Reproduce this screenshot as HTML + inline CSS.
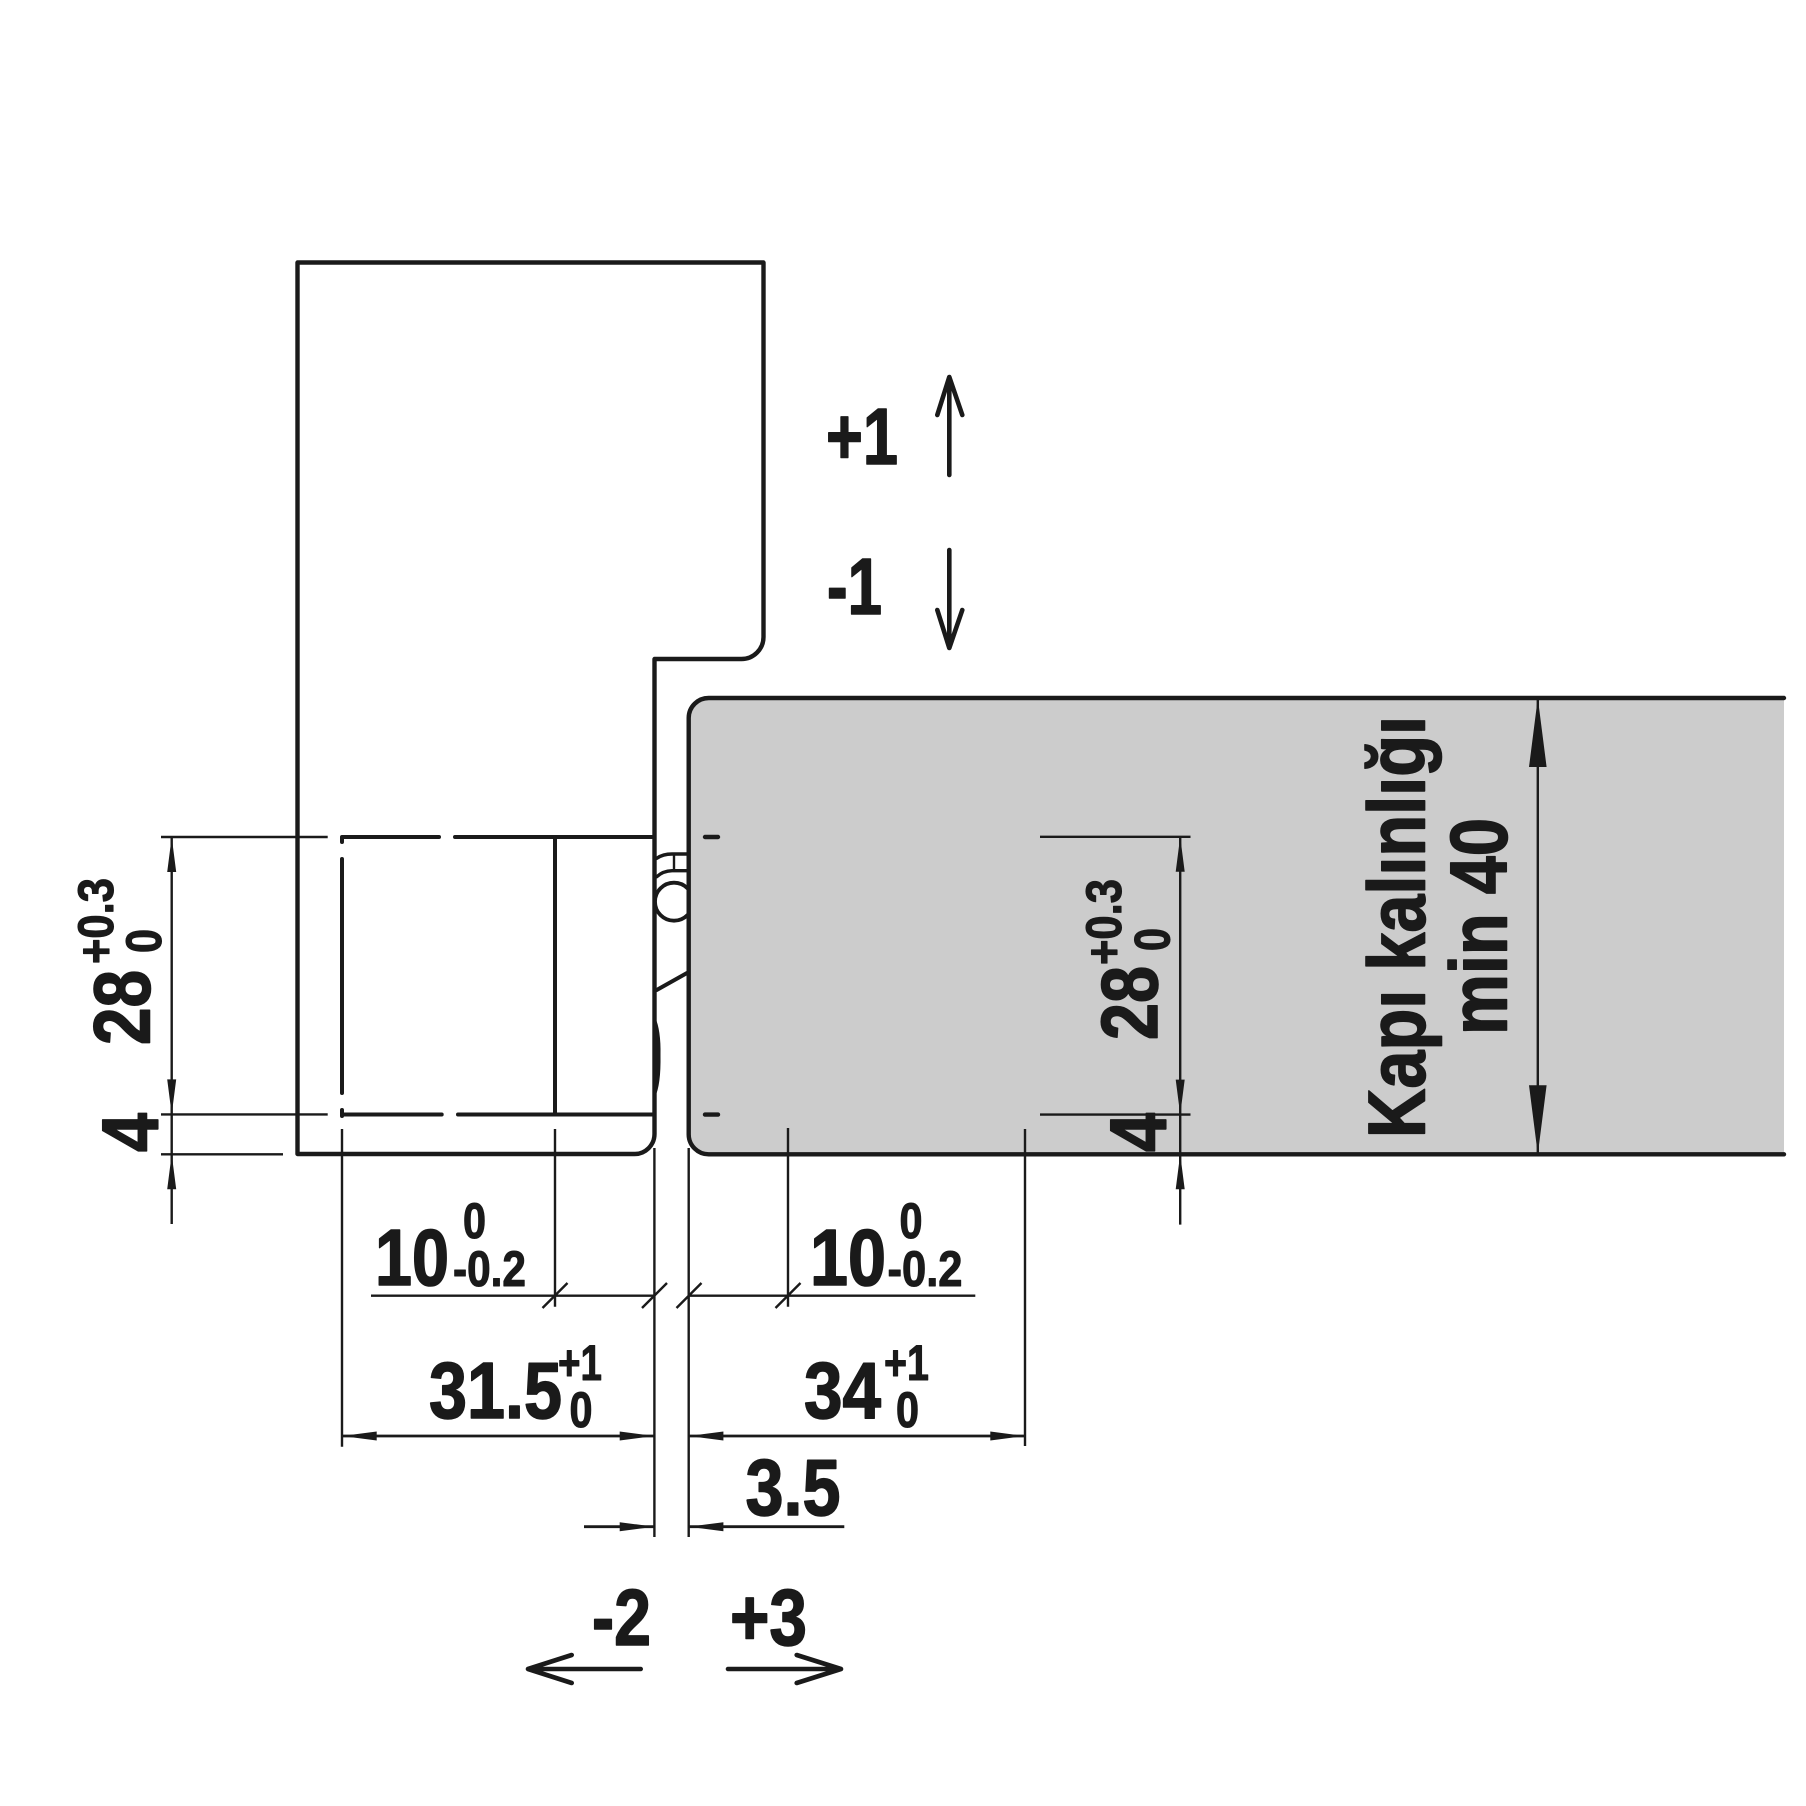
<!DOCTYPE html>
<html><head><meta charset="utf-8"><title>Kapı kalınlığı</title>
<style>
html,body{margin:0;padding:0;background:#fff}
svg{display:block}
text{font-family:"Liberation Sans",Arial,sans-serif;font-weight:bold;fill:#1a1a1a;stroke:#1a1a1a;stroke-width:1.6;stroke-linejoin:round}
.b{font-size:80px}.s{font-size:50px;stroke-width:1.1}
.o{fill:none;stroke:#1a1a1a;stroke-width:4.4;stroke-linejoin:round;stroke-linecap:round}
.t{fill:none;stroke:#1a1a1a;stroke-width:2.4}
.d{fill:none;stroke:#1a1a1a;stroke-width:4;stroke-linecap:round}
.a{fill:none;stroke:#1a1a1a;stroke-width:4.6;stroke-linecap:round;stroke-linejoin:round}
.h{fill:#1a1a1a}
</style></head><body>
<svg xmlns="http://www.w3.org/2000/svg" width="1806" height="1806" viewBox="0 0 1806 1806">
<rect width="1806" height="1806" fill="#fff"/>

<!-- hinge details -->
<path d="M656.7,858.3 Q663,854 672,854 H687" class="d" style="stroke-width:3.4"/>
<path d="M656.7,876.7 Q663,871 672,870.7 H687" class="d" style="stroke-width:3.4"/>
<path d="M674,854 V870.7" class="t"/>
<circle cx="674" cy="901.7" r="19" fill="#fff" stroke="#1a1a1a" stroke-width="3.8"/>
<path d="M656.7,990 L687,973" class="d"/>
<path d="M655,1017 Q661,1030 660.5,1055 Q661,1085 655,1097 Z" class="h"/>

<!-- door -->
<path d="M1784,698 H709 A20,20 0 0 0 688.7,718 V1134 A20,20 0 0 0 709,1154.3 H1784" fill="#cccccc" stroke="#1a1a1a" stroke-width="4.4" stroke-linecap="round"/>

<!-- frame -->
<path d="M297.5,262.5 H763.5 V637 A22,22 0 0 1 741.5,659 H654.5 V1134 A20,20 0 0 1 634.5,1154 H297.5 Z" class="o"/>

<!-- hidden lines -->
<path d="M342,837 H439 M455,837 H654 M342,1114.5 H441.7 M458,1114.5 H654 M342,859 V1093 M342,837 V842 M342,1110 V1116 M555,837 V1114.5" class="d"/>
<path d="M705,837 H718 M705,1114.6 H718" class="d" style="stroke-width:4.4"/>

<!-- left vertical dim -->
<path d="M161,837 H327.7 M161,1114.4 H327.7 M161,1154.3 H283 M171.7,837 V1224" class="t"/>
<path d="M171.7,837 l-4.5,35 h9 Z M171.7,1114.4 l-4.5,-35 h9 Z M171.7,1154.3 l-4.5,35 h9 Z" class="h"/>

<!-- right vertical dim -->
<path d="M1040,836.8 H1190.5 M1040,1114.6 H1190.5 M1180.2,836.8 V1224.6" class="t"/>
<path d="M1180.2,836.8 l-4.5,35 h9 Z M1180.2,1114.6 l-4.5,-35 h9 Z M1180.2,1154.3 l-4.5,35 h9 Z" class="h"/>

<!-- door thickness -->
<path d="M1537.8,698 V1154.3" class="t"/>
<path d="M1537.8,698 l-8.8,69 h17.6 Z M1537.8,1154.3 l-8.8,-69 h17.6 Z" class="h"/>

<!-- extension lines -->
<path d="M342,1129 V1446.7 M555,1129 V1306.7 M654.4,1148 V1537 M688.7,1148 V1537 M788,1128 V1306.7 M1025,1129 V1446" class="t"/>

<!-- 10 dims -->
<path d="M371,1295.7 H654.4 M688.7,1295.7 H975.3" class="t"/>
<path d="M542.5,1308 L567.5,1283 M642,1308 L667,1283 M676.5,1308 L701.5,1283 M775.5,1308 L800.5,1283" class="t"/>

<!-- 31.5 / 34 dims -->
<path d="M342,1436 H654.4 M688.7,1436 H1025" class="t" style="stroke-width:2.8"/>
<path d="M342,1436 l34.7,-4.5 v9 Z M654.4,1436 l-34.7,-4.5 v9 Z M688.7,1436 l34.7,-4.5 v9 Z M1025,1436 l-34.7,-4.5 v9 Z" class="h"/>

<!-- 3.5 dim -->
<path d="M584,1526.7 H654.4 M688.7,1526.7 H844.3" class="t" style="stroke-width:2.8"/>
<path d="M654.4,1526.7 l-34.7,-4.5 v9 Z M688.7,1526.7 l34.7,-4.5 v9 Z" class="h"/>

<!-- direction arrows -->
<path d="M949.3,475 V377 M937.3,415 L949.3,377 L962.3,415" class="a"/>
<path d="M949.3,550 V648 M937.3,610 L949.3,648 L962.3,610" class="a"/>
<path d="M640.7,1669 H528 M571.7,1655 L528,1669 L571.7,1683" class="a"/>
<path d="M728,1669 H841 M796.7,1655 L841,1669 L796.7,1683" class="a"/>

<!-- horizontal labels -->
<text class="b" x="826" y="464" textLength="72" lengthAdjust="spacingAndGlyphs">+1</text>
<text class="b" x="827" y="614" textLength="55" lengthAdjust="spacingAndGlyphs">-1</text>
<text class="b" x="592" y="1645" textLength="59" lengthAdjust="spacingAndGlyphs">-2</text>
<text class="b" x="730" y="1645" textLength="77" lengthAdjust="spacingAndGlyphs">+3</text>

<text class="b" x="375" y="1285" textLength="74" lengthAdjust="spacingAndGlyphs">10</text>
<text class="s" x="463" y="1238" textLength="23" lengthAdjust="spacingAndGlyphs">0</text>
<text class="s" x="453" y="1286" textLength="73" lengthAdjust="spacingAndGlyphs">-0.2</text>
<text class="b" x="810" y="1285" textLength="76" lengthAdjust="spacingAndGlyphs">10</text>
<text class="s" x="899.5" y="1238" textLength="23" lengthAdjust="spacingAndGlyphs">0</text>
<text class="s" x="887.5" y="1286" textLength="75" lengthAdjust="spacingAndGlyphs">-0.2</text>

<text class="b" x="429" y="1418" textLength="133" lengthAdjust="spacingAndGlyphs">31.5</text>
<text class="s" x="558" y="1380" textLength="44" lengthAdjust="spacingAndGlyphs">+1</text>
<text class="s" x="569.5" y="1427" textLength="23" lengthAdjust="spacingAndGlyphs">0</text>
<text class="b" x="804" y="1418" textLength="77" lengthAdjust="spacingAndGlyphs">34</text>
<text class="s" x="884" y="1380" textLength="45" lengthAdjust="spacingAndGlyphs">+1</text>
<text class="s" x="896" y="1427" textLength="23" lengthAdjust="spacingAndGlyphs">0</text>
<text class="b" x="745.5" y="1515" textLength="95" lengthAdjust="spacingAndGlyphs">3.5</text>

<!-- rotated left -->
<text class="b" transform="translate(149.3,1045) rotate(-90)" textLength="75" lengthAdjust="spacingAndGlyphs">28</text>
<text class="s" transform="translate(113,964) rotate(-90)" textLength="86" lengthAdjust="spacingAndGlyphs">+0.3</text>
<text class="s" transform="translate(161,953) rotate(-90)" textLength="24" lengthAdjust="spacingAndGlyphs">0</text>
<text class="b" transform="translate(157.3,1152) rotate(-90)" textLength="39" lengthAdjust="spacingAndGlyphs">4</text>

<!-- rotated right -->
<text class="b" transform="translate(1157.2,1040) rotate(-90)" textLength="74" lengthAdjust="spacingAndGlyphs">28</text>
<text class="s" transform="translate(1121,965) rotate(-90)" textLength="86" lengthAdjust="spacingAndGlyphs">+0.3</text>
<text class="s" transform="translate(1169.5,951) rotate(-90)" textLength="23" lengthAdjust="spacingAndGlyphs">0</text>
<text class="b" transform="translate(1165.5,1152) rotate(-90)" textLength="39" lengthAdjust="spacingAndGlyphs">4</text>

<text style="font-size:81px" transform="translate(1424.5,1138) rotate(-90)" textLength="422" lengthAdjust="spacingAndGlyphs">Kapı kalınlığı</text>
<text style="font-size:81px" transform="translate(1506.5,1035) rotate(-90)" textLength="217" lengthAdjust="spacingAndGlyphs">min 40</text>
</svg>
</body></html>
